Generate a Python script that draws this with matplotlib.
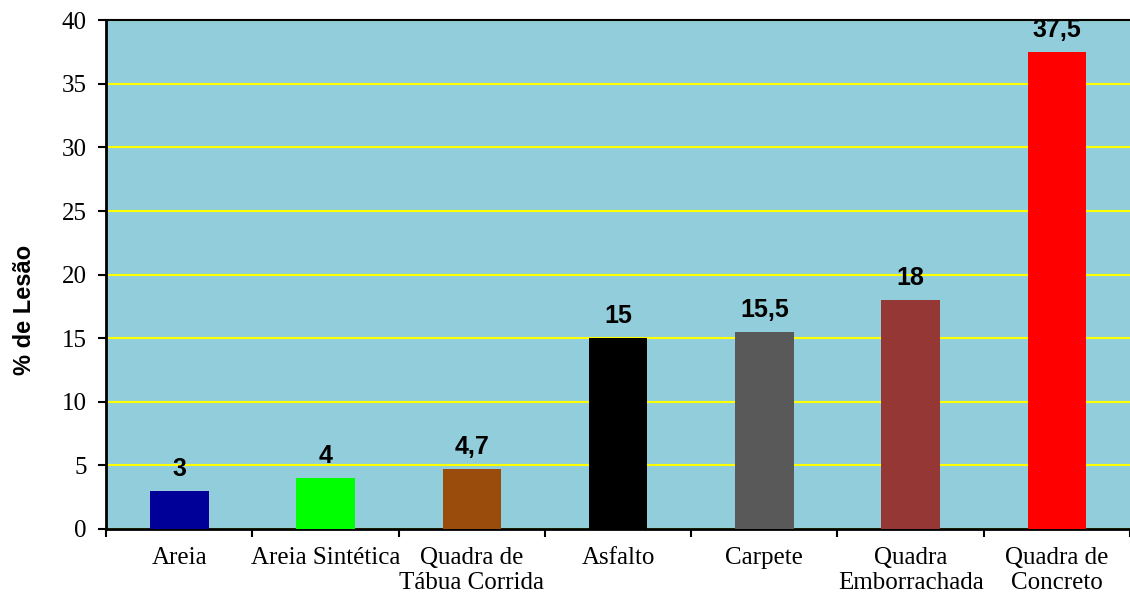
import matplotlib.pyplot as plt
import numpy as np

categories = ["Areia", "Areia Sintética", "Quadra de\nTábua Corrida", "Asfalto",
              "Carpete", "Quadra\nEmborrachada", "Quadra de\nConcreto"]
values = [3, 4, 4.7, 15, 15.5, 18, 37.5]
labels = ["3", "4", "4,7", "15", "15,5", "18", "37,5"]
colors = ["#000099", "#00FF00", "#994C0C", "#000000", "#595959", "#953735", "#FF0000"]

fig = plt.figure(figsize=(11.3, 5.95), dpi=100)
ax = fig.add_axes([0.094, 0.111, 0.906, 0.855])
ax.set_facecolor("#92CDDC")

x = np.arange(len(categories))
ax.bar(x, values, width=0.4, color=colors, zorder=3)
for xi, v, lab in zip(x, values, labels):
    ax.annotate(lab, (xi, v), xytext=(0, 7), textcoords="offset points",
                ha="center", va="bottom", fontsize=18, fontweight="bold",
                family="Liberation Sans", zorder=4)

ax.set_xlim(-0.5, len(categories) - 0.5)
ax.set_ylim(0, 40)
ax.set_yticks(np.arange(0, 41, 5))
ax.yaxis.grid(True, color="#FFFF00", linewidth=1.5, zorder=1)
ax.set_axisbelow(True)

ax.set_xticks(x)
ax.set_xticklabels(categories, family="Liberation Serif", fontsize=18, linespacing=1.15)
ax.tick_params(axis="x", which="major", length=0, pad=13)
ax.set_xticks(np.arange(-0.5, len(categories), 1), minor=True)
ax.tick_params(axis="x", which="minor", length=6, width=1.5, direction="out")
ax.tick_params(axis="y", length=6, width=1.5, direction="out", labelsize=18, pad=8)
for t in ax.get_yticklabels():
    t.set_family("Liberation Serif")

ax.set_ylabel("% de Lesão", family="Liberation Sans", fontweight="bold", fontsize=17)
ax.yaxis.set_label_coords(-0.069, 0.43)

for s in ["left", "bottom"]:
    ax.spines[s].set_linewidth(2)
ax.spines["top"].set_linewidth(1.5)
ax.spines["right"].set_visible(False)

fig.savefig("out.png", dpi=100)
